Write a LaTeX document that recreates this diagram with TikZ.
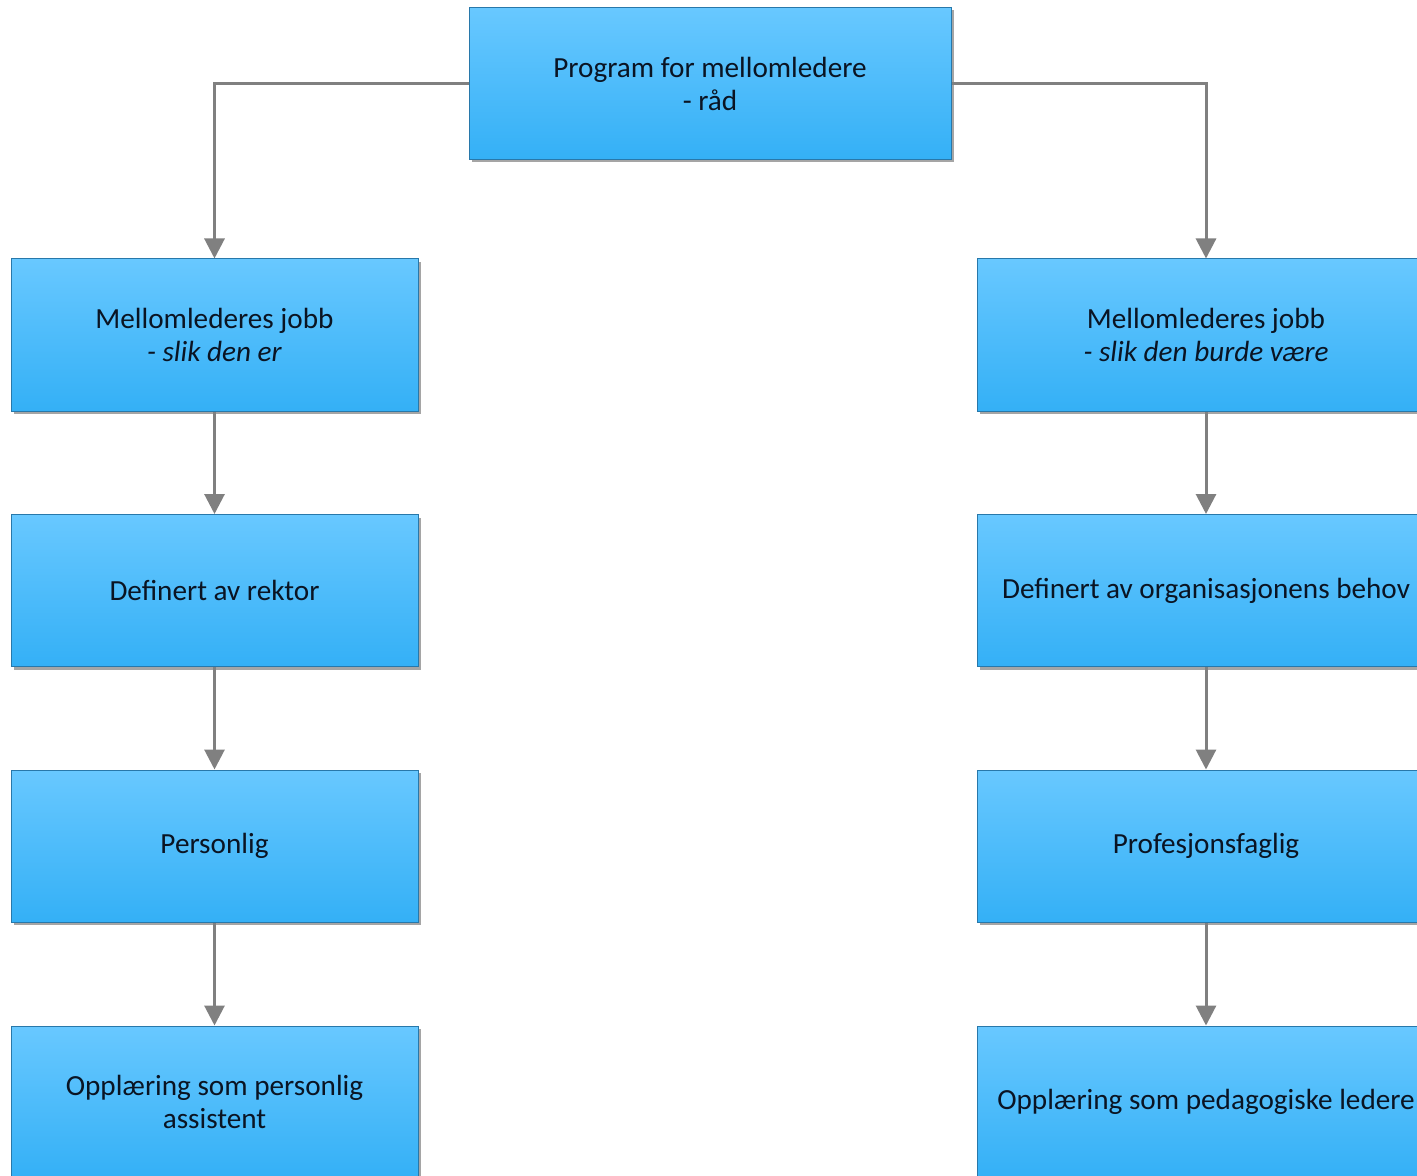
\documentclass[tikz,border=0pt]{standalone}
\usepackage{fontspec}
\setmainfont{Carlito}
\usepackage{tikz}
\usetikzlibrary{arrows.meta,shadows}

\definecolor{boxtop}{RGB}{104,200,255}
\definecolor{boxbot}{RGB}{52,176,246}
\definecolor{boxline}{RGB}{40,120,170}
\definecolor{linegray}{RGB}{128,128,128}
\definecolor{textnavy}{RGB}{10,20,35}

\begin{document}
\begin{tikzpicture}
		[x = 0.5pt, y = -0.5pt,
		 box/.style = {draw = boxline, line width = 0.5pt, top color = boxtop, bottom color = boxbot,
			minimum width = 203.5pt, minimum height = 76pt, inner sep = 0pt, align = center,
			text = textnavy, font = \fontsize{14.6}{16.5}\selectfont,
			drop shadow = {shadow xshift = 1.5pt, shadow yshift = -1.5pt, fill = black!50, opacity = 0.7}},
		 widebox/.style = {box, minimum width = 229pt},
		 conn/.style = {draw = linegray, line width = 1.5pt, -{Triangle[width = 10pt, length = 10pt]}}]
			\useasboundingbox (0,0) rectangle (1417,1176);
			\clip (0,0) rectangle (1417,1176);
			\fill[white] (0,0) rectangle (1417,1176);
			% top
			\node[box, minimum width = 241pt] (top) at (710,83.5) {Program for mellomledere\\- råd};
			% left column
			\node[box] (l1) at (214.5,335) {Mellomlederes jobb\\\textit{- slik den er}};
			\node[box] (l2) at (214.5,590.5) {Definert av rektor};
			\node[box] (l3) at (214.5,846) {Personlig};
			\node[box] (l4) at (214.5,1102) {Opplæring som personlig\\assistent};
			% right column
			\node[widebox] (r1) at (1206,335) {Mellomlederes jobb\\\textit{- slik den burde være}};
			\node[widebox] (r2) at (1206,590.5) {Definert av organisasjonens behov};
			\node[widebox] (r3) at (1206,846) {Profesjonsfaglig};
			\node[widebox] (r4) at (1206,1102) {Opplæring som pedagogiske ledere};
			% connectors
			\draw[conn] (top.west) -| (l1.north);
			\draw[conn] (top.east) -| (r1.north);
			\draw[conn] (l1) -- (l2);
			\draw[conn] (l2) -- (l3);
			\draw[conn] (l3) -- (l4);
			\draw[conn] (r1) -- (r2);
			\draw[conn] (r2) -- (r3);
			\draw[conn] (r3) -- (r4);
	\end{tikzpicture}
\end{document}
